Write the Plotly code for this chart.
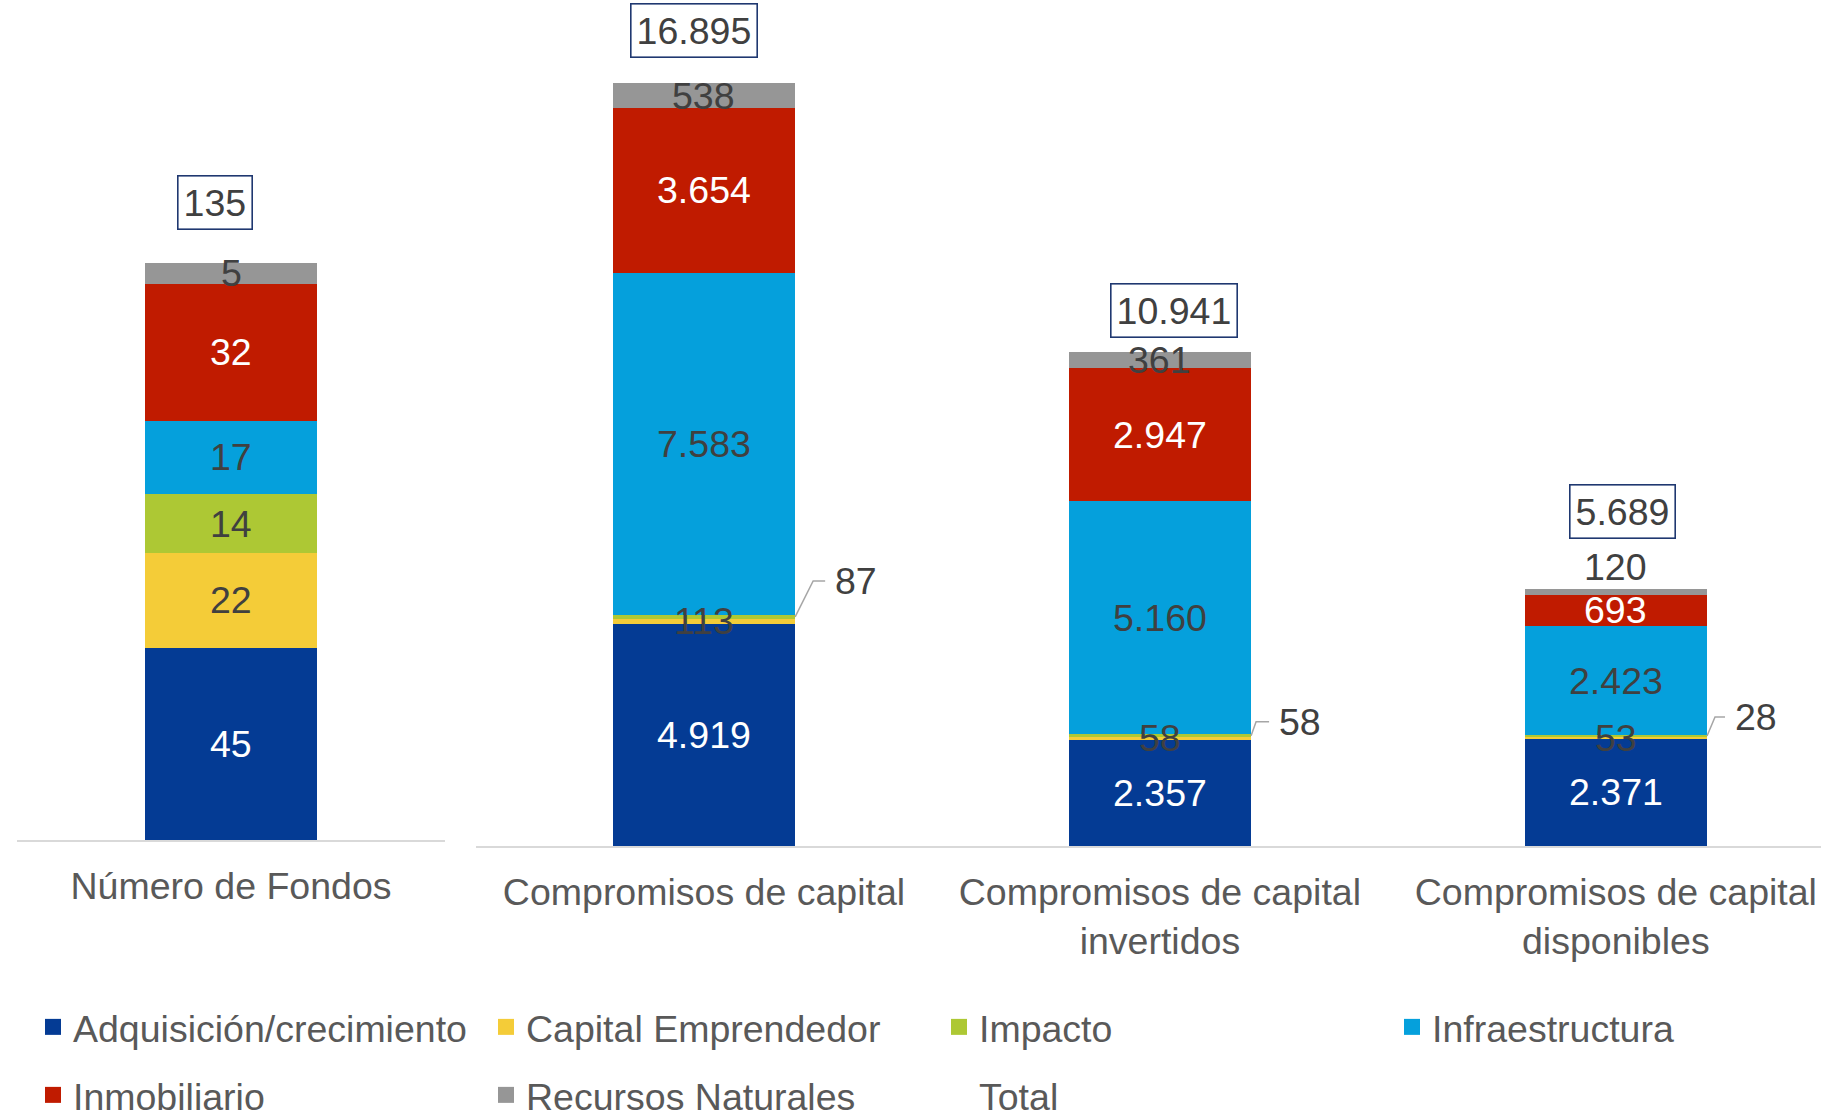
import plotly.graph_objects as go

# ---------------- data ----------------
categories_left = ["Número de Fondos"]
categories_right = [
    "Compromisos de capital",
    "Compromisos de capital<br>invertidos",
    "Compromisos de capital<br>disponibles",
]

series_names = [
    "Adquisición/crecimiento",
    "Capital Emprendedor",
    "Impacto",
    "Infraestructura",
    "Inmobiliario",
    "Recursos Naturales",
]
adquisicion = [45, 4919, 2357, 2371]
emprendedor = [22, 113, 58, 53]
impacto = [14, 87, 58, 28]
infraestructura = [17, 7583, 5160, 2423]
inmobiliario = [32, 3654, 2947, 693]
recursos = [5, 538, 361, 120]
totals = [135, 16895, 10941, 5689]

# ---------------- styles ----------------
colors = ["#043B94", "#F4CC38", "#ADC834", "#05A0DC", "#C01B00", "#969696"]
label_colors = ["white", "#404040", "#404040", "#404040", "white", "#404040"]
FONT = "Liberation Sans, Arial, sans-serif"
FS = 37.5
DARK = "#404040"
BARGAP = 0.6
HALF = (1 - BARGAP) / 2

# total box offsets (px) per column: (xshift, yshift above bar top)
total_offsets = [(-16, 60), (-10, 53), (14, 42), (7, 78)]
# callout leader lines for the thin "Impacto" segments: (dx, dy, horizontal length)
callouts = {1: (18, 36, 12), 2: (5, 14, 13), 3: (8, 19, 10)}
# extra lift for specific labels: (series index, column) -> px
label_lift = {(5, 3): 25}
# legend rows: which legend each entry goes to
legend_rows = ["legend", "legend", "legend", "legend", "legend2", "legend2"]

series_values = [adquisicion, emprendedor, impacto, infraestructura, inmobiliario, recursos]


def fmt(v):
    return f"{v:,}".replace(",", ".")


fig = go.Figure()

for s, (name, vals) in enumerate(zip(series_names, series_values)):
    fig.add_trace(go.Bar(
        x=categories_left, y=vals[:1], name=name, marker=dict(color=colors[s], line=dict(width=0)),
        xaxis="x", yaxis="y", showlegend=False, hoverinfo="skip",
    ))
    fig.add_trace(go.Bar(
        x=categories_right, y=vals[1:], name=name, marker=dict(color=colors[s], line=dict(width=0)),
        xaxis="x2", yaxis="y2", showlegend=False, hoverinfo="skip",
    ))
    # legend entry (square swatch)
    fig.add_trace(go.Scatter(
        x=[None], y=[None], name=name, mode="markers",
        marker=dict(color=colors[s], symbol="square", size=16),
        xaxis="x2", yaxis="y2", legend=legend_rows[s], showlegend=True, hoverinfo="skip",
    ))

fig.add_trace(go.Scatter(
    x=categories_right, y=totals[1:], name="Total", mode="markers",
    marker=dict(color="rgba(0,0,0,0)", size=1), xaxis="x2", yaxis="y2",
    legend="legend2", hoverinfo="skip",
))

annotations = []
shapes = []
all_cats = categories_left + categories_right
for c in range(4):
    xref, yref = ("x", "y") if c == 0 else ("x2", "y2")
    idx = 0 if c == 0 else c - 1
    base = 0
    for s, vals in enumerate(series_values):
        v = vals[c]
        mid = base + v / 2
        if s == 2 and c in callouts:
            dx, dy, hl = callouts[c]
            shapes.append(dict(
                type="path", xref=xref, yref=yref, xsizemode="pixel", ysizemode="pixel",
                xanchor=idx + HALF, yanchor=mid,
                path=f"M0,0 L{dx},{dy} L{dx + hl},{dy}",
                line=dict(color="#A6A6A6", width=1.5),
            ))
            annotations.append(dict(
                x=idx + HALF, y=mid, xref=xref, yref=yref, text=fmt(v), showarrow=False,
                xanchor="left", yanchor="middle", xshift=dx + hl + 8, yshift=dy,
                font=dict(family=FONT, size=FS, color=DARK),
            ))
        else:
            annotations.append(dict(
                x=all_cats[c], y=mid, xref=xref, yref=yref, text=fmt(v), showarrow=False,
                xanchor="center", yanchor="middle", yshift=label_lift.get((s, c), 0),
                font=dict(family=FONT, size=FS, color=label_colors[s]),
            ))
        base += v
    xs, ys = total_offsets[c]
    annotations.append(dict(
        x=all_cats[c], y=totals[c], xref=xref, yref=yref, text=fmt(totals[c]), showarrow=False,
        xanchor="center", yanchor="middle", xshift=xs, yshift=ys,
        font=dict(family=FONT, size=FS, color=DARK),
        bordercolor="#1F3870", borderwidth=1.6, borderpad=5, bgcolor="white",
    ))

axis_common = dict(
    showline=True, linecolor="#D9D9D9", linewidth=1.5, showgrid=False, zeroline=False,
    ticks="outside", ticklen=12, tickcolor="rgba(0,0,0,0)",
    tickfont=dict(family=FONT, size=FS, color="#595959"), fixedrange=True, automargin=False,
)

legend_common = dict(
    orientation="h", xanchor="left", yanchor="middle",
    entrywidth=408, entrywidthmode="pixels", traceorder="normal",
    font=dict(family=FONT, size=FS, color="#595959"), itemclick=False, itemdoubleclick=False,
    bgcolor="rgba(0,0,0,0)", borderwidth=0,
)

fig.update_layout(
    width=1821, height=1118,
    margin=dict(l=0, r=0, t=0, b=0, autoexpand=False),
    paper_bgcolor="white", plot_bgcolor="white",
    barmode="stack", bargap=BARGAP,
    font=dict(family=FONT, size=FS, color=DARK),
    xaxis=dict(domain=[17 / 1821, 445 / 1821], range=[-0.5, 0.5], anchor="y", **axis_common),
    yaxis=dict(domain=[1 - 840 / 1118, 1], range=[0, 196.4], anchor="x", visible=False),
    xaxis2=dict(domain=[476 / 1821, 1], range=[-0.5, 2.45], anchor="y2", **axis_common),
    yaxis2=dict(domain=[1 - 846 / 1118, 1], range=[0, 18741], anchor="x2", visible=False),
    legend=dict(x=33 / 1821, y=1 - 1027 / 1118, **legend_common),
    legend2=dict(x=33 / 1821, y=1 - 1095 / 1118, **legend_common),
    annotations=annotations,
    shapes=shapes,
    showlegend=True,
)

fig.write_html(
    "out.html",
    config={"displayModeBar": False},
    post_script="document.body.style.margin='0';",
)
